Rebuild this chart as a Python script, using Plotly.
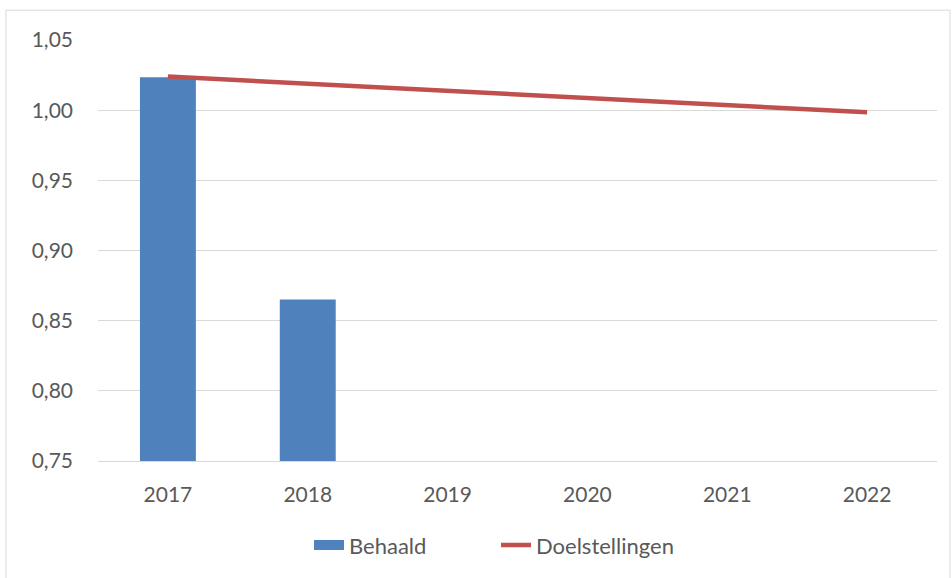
import plotly.graph_objects as go

years = ["2017", "2018", "2019", "2020", "2021", "2022"]
behaald = [1.0235, 0.865, None, None, None, None]
doelstellingen = [1.024, 1.019, 1.014, 1.009, 1.004, 0.9985]
y_ticks = [0.75, 0.80, 0.85, 0.90, 0.95, 1.00, 1.05]
axis_base = 0.75

BLUE = "#4f81bd"
RED = "#c0504d"
GREY_TEXT = "#595959"
GRID = "#d9d9d9"

fig = go.Figure()
fig.add_trace(
    go.Bar(
        x=years,
        y=[v - axis_base if v is not None else None for v in behaald],
        base=axis_base,
        name="Behaald",
        marker=dict(color=BLUE, line=dict(width=0)),
        width=0.4,
        showlegend=False,
    )
)
# legend-only entry so the Behaald key is a wide block like the original
fig.add_trace(
    go.Scatter(
        x=[None],
        y=[None],
        mode="lines",
        name="Behaald",
        line=dict(color=BLUE, width=13),
    )
)
fig.add_trace(
    go.Scatter(
        x=years,
        y=doelstellingen,
        name="Doelstellingen",
        mode="lines",
        line=dict(color=RED, width=4.5),
    )
)

fig.update_layout(
    width=952,
    height=578,
    margin=dict(l=98, r=15, t=40, b=115),
    plot_bgcolor="white",
    paper_bgcolor="white",
    separators=", ",
    font=dict(family="Lato, Open Sans, sans-serif", size=21, color=GREY_TEXT),
    showlegend=True,
    legend=dict(
        orientation="h",
        x=(309 - 98) / 839,
        xanchor="left",
        y=-0.2,
        yanchor="middle",
        font=dict(size=22, color=GREY_TEXT),
        traceorder="normal",
        entrywidth=142,
        entrywidthmode="pixels",
    ),
    shapes=[
        dict(
            type="rect",
            xref="paper",
            yref="paper",
            x0=-0.1097,
            x1=1.0155,
            y0=-0.5,
            y1=1.0709,
            line=dict(color=GRID, width=1),
            fillcolor="rgba(0,0,0,0)",
            layer="below",
        )
    ],
)
fig.update_xaxes(
    showgrid=False,
    showline=True,
    linecolor=GRID,
    linewidth=1,
    ticks="",
    ticklabelstandoff=15,
)
fig.update_yaxes(
    range=[axis_base, 1.05],
    tickvals=y_ticks,
    tickformat=".2f",
    showgrid=True,
    gridcolor=GRID,
    gridwidth=1,
    zeroline=False,
    showline=False,
    ticks="",
    ticklabelstandoff=24,
)

fig.write_html(
    "out.html",
    config={"displayModeBar": False},
    post_script="document.body.style.margin='0';",
)
